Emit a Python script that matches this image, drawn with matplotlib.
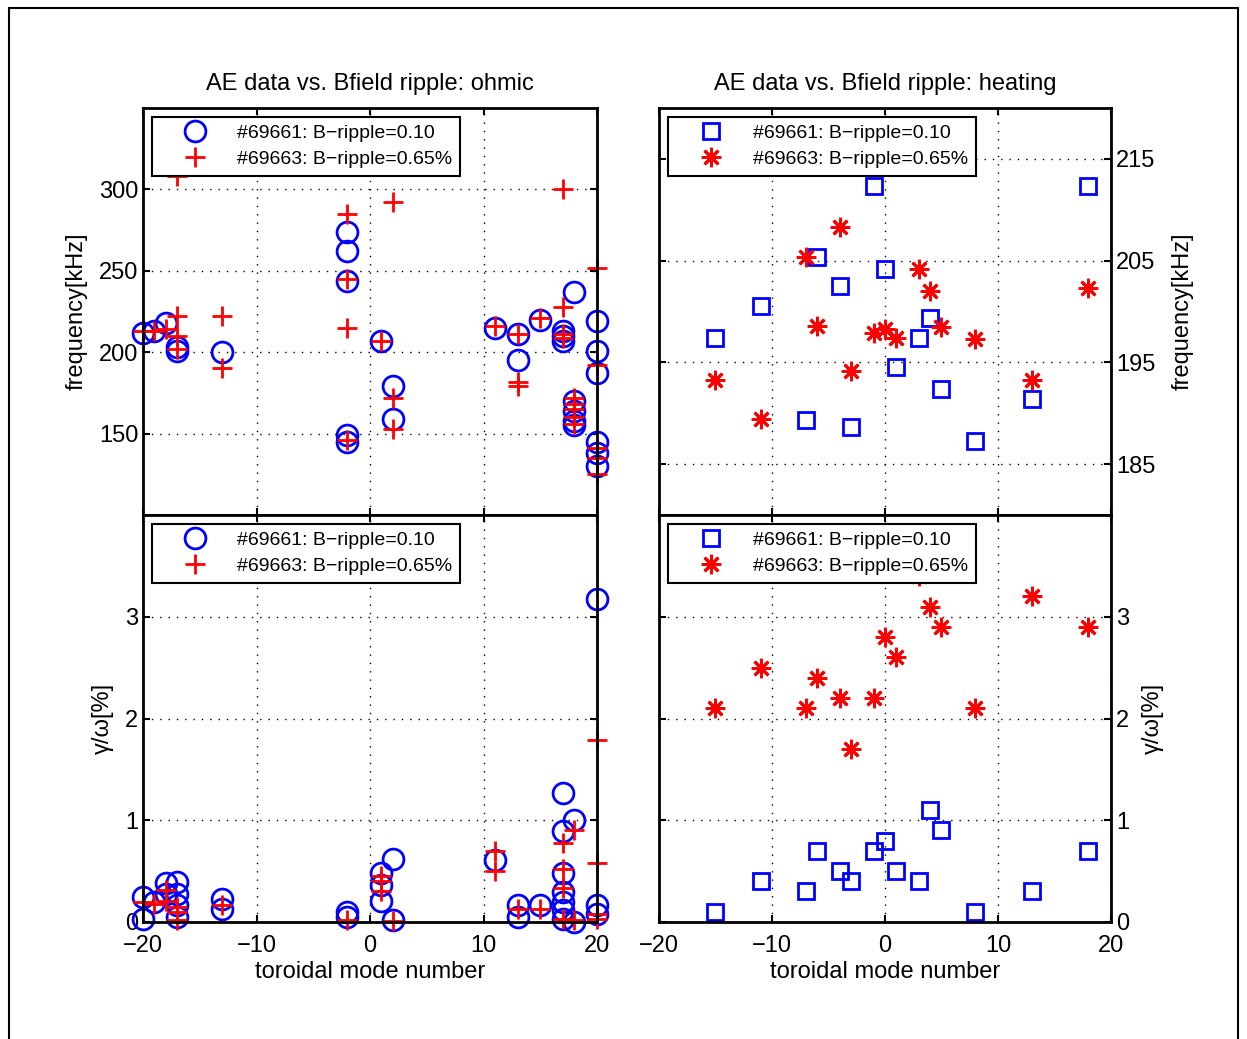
import matplotlib
matplotlib.use("Agg")
import matplotlib.pyplot as plt
from matplotlib.patches import Rectangle

plt.rcParams['font.family'] = ['Liberation Sans', 'DejaVu Sans']

# ---- ohmic: frequency ----
ohm_f_c_x = [-20, -19, -18, -17, -17, -13, -2, -2, -2, -2, -2, 1, 2, 2, 11, 13, 13, 15,
             17, 17, 17, 18, 18, 18, 18, 18, 20, 20, 20, 20, 20, 20]
ohm_f_c_y = [212, 213, 218, 201, 203, 200, 274, 262, 244, 149, 145, 207, 179, 159, 215, 211, 195, 220,
             213, 210, 207, 237, 170, 164, 158, 155, 219, 201, 187, 145, 138, 130]
ohm_f_p_x = [-20, -19, -18, -17, -17, -17, -17, -13, -13, -2, -2, -2, -2, 1, 2, 2, 2, 11, 13, 13, 13,
             15, 17, 17, 17, 17, 18, 18, 18, 18, 18, 20, 20, 20, 20, 20]
ohm_f_p_y = [213, 213, 214, 308, 222, 210, 202, 222, 190, 285, 245, 215, 146, 207, 292, 172, 153, 216, 211, 182, 179,
             221, 300, 228, 211, 209, 172, 168, 165, 160, 156, 252, 192, 141, 135, 125]

# ---- ohmic: growth rate ----
ohm_g_c_x = [-20, -20, -19, -18, -18, -17, -17, -17, -17, -13, -13, -2, -2, 1, 1, 1, 2, 2, 11, 13, 13,
             15, 17, 17, 17, 17, 17, 17, 17, 18, 18, 20, 20, 20]
ohm_g_c_y = [0.25, 0.03, 0.2, 0.38, 0.28, 0.39, 0.28, 0.17, 0.05, 0.23, 0.13, 0.1, 0.05, 0.48, 0.36, 0.21, 0.62, 0.02,
             0.61, 0.17, 0.05, 0.17, 1.27, 0.89, 0.48, 0.29, 0.2, 0.12, 0.03, 1.0, 0.0, 3.17, 0.17, 0.08]
ohm_g_p_x = [-20, -19, -18, -18, -17, -17, -17, -13, -2, 1, 1, 1, 2, 11, 11, 13, 15, 17, 17, 17, 17,
             18, 18, 20, 20, 20, 20]
ohm_g_p_y = [0.2, 0.18, 0.31, 0.21, 0.15, 0.1, 0.02, 0.17, 0.02, 0.45, 0.4, 0.3, 0.01, 0.7, 0.5, 0.13, 0.13,
             0.78, 0.52, 0.33, 0.03, 0.9, 0.02, 1.79, 0.58, 0.08, 0.03]

# ---- heating ----
heat_x = [-15, -11, -7, -6, -4, -3, -1, 0, 1, 3, 4, 5, 8, 13, 18]
heat_f_sq = [197.4, 200.5, 189.3, 205.4, 202.5, 188.6, 212.3, 204.2, 194.5, 197.4, 199.4, 192.4, 187.3, 191.4, 212.3]
heat_f_st = [193.3, 189.4, 205.4, 198.6, 208.3, 194.2, 197.9, 198.3, 197.4, 204.2, 202.0, 198.5, 197.3, 193.3, 202.3]
heat_g_sq = [0.1, 0.4, 0.3, 0.7, 0.5, 0.4, 0.7, 0.8, 0.5, 0.4, 1.1, 0.9, 0.1, 0.3, 0.7]
heat_g_st = [2.1, 2.5, 2.1, 2.4, 2.2, 1.7, 2.2, 2.8, 2.6, 3.4, 3.1, 2.9, 2.1, 3.2, 2.9]

lab1 = "#69661: B\u2212ripple=0.10"
lab2 = "#69663: B\u2212ripple=0.65%"
asterisk = (8, 2, 0)

W, H = 1247, 1039
fig = plt.figure(figsize=(W / 100, H / 100), dpi=100)
fig.patches.append(Rectangle((9 / W, -0.01), 1229 / W, 1 - 8 / H + 0.01, transform=fig.transFigure,
                             fill=False, lw=1.5, ec='black'))


def pos(x0, x1, y0, y1):
    return [x0 / W, 1 - y1 / H, (x1 - x0) / W, (y1 - y0) / H]


ax1 = fig.add_axes(pos(143, 597, 108, 515))
ax2 = fig.add_axes(pos(143, 597, 515, 922))
ax3 = fig.add_axes(pos(659, 1111, 108, 515))
ax4 = fig.add_axes(pos(659, 1111, 515, 922))

ms_kw = dict(linestyle='none', clip_on=False)
ax1.plot(ohm_f_c_x, ohm_f_c_y, 'o', color='blue', mfc='none', ms=15, mew=2, label=lab1, **ms_kw)
ax1.plot(ohm_f_p_x, ohm_f_p_y, '+', color='red', ms=15, mew=2, label=lab2, **ms_kw)
ax2.plot(ohm_g_c_x, ohm_g_c_y, 'o', color='blue', mfc='none', ms=15, mew=2, label=lab1, **ms_kw)
ax2.plot(ohm_g_p_x, ohm_g_p_y, '+', color='red', ms=15, mew=2, label=lab2, **ms_kw)
ax3.plot(heat_x, heat_f_sq, 's', color='blue', mfc='none', ms=12, mew=2, label=lab1, **ms_kw)
ax3.plot(heat_x, heat_f_st, marker=asterisk, color='red', ms=14, mew=2, label=lab2, **ms_kw)
ax4.plot(heat_x, heat_g_sq, 's', color='blue', mfc='none', ms=12, mew=2, label=lab1, **ms_kw)
ax4.plot(heat_x, heat_g_st, marker=asterisk, color='red', ms=14, mew=2, label=lab2, **ms_kw)

for ax in [ax1, ax2, ax3, ax4]:
    ax.set_xlim(-20, 20)
    ax.set_xticks([-20, -10, 0, 10, 20])
    ax.grid(True, color='black', linestyle=(0, (1, 5)), linewidth=1.0)
    for s in ax.spines.values():
        s.set_linewidth(2)
    ax.tick_params(direction='in', length=5, width=1.5, labelsize=17,
                   top=True, bottom=True, left=True, right=True)
    ax.tick_params(axis='x', pad=9)
    leg = ax.legend(loc='upper left', fontsize=14, fancybox=False, framealpha=1,
                    edgecolor='black', handlelength=3.6, handletextpad=0.4,
                    borderpad=0.4, borderaxespad=0.45, labelspacing=0.42)
    leg.get_frame().set_linewidth(1.5)
    leg.set_zorder(10)

ax1.set_ylim(100, 350)
ax1.set_yticks([150, 200, 250, 300])
ax3.set_ylim(180, 220)
ax3.set_yticks([185, 195, 205, 215])
for ax in [ax2, ax4]:
    ax.set_ylim(0, 4)
    ax.set_yticks([0, 1, 2, 3])
    ax.set_xlabel("toroidal mode number", fontsize=17, labelpad=3)

for ax in [ax1, ax3]:
    ax.tick_params(labelbottom=False)
for ax in [ax3, ax4]:
    ax.tick_params(labelleft=False, labelright=True)
    ax.yaxis.set_label_position('right')

ax1.set_title("AE data vs. Bfield ripple: ohmic", fontsize=17, pad=13)
ax3.set_title("AE data vs. Bfield ripple: heating", fontsize=17, pad=13)
ax1.set_ylabel("frequency[kHz]", fontsize=17, labelpad=8)
ax3.set_ylabel("frequency[kHz]", fontsize=17, labelpad=12, rotation=90)
ax2.set_ylabel("\u03b3/\u03c9[%]", fontsize=17, labelpad=8)
ax4.set_ylabel("\u03b3/\u03c9[%]", fontsize=17, labelpad=9, rotation=90)

fig.savefig("out.png", dpi=100)
